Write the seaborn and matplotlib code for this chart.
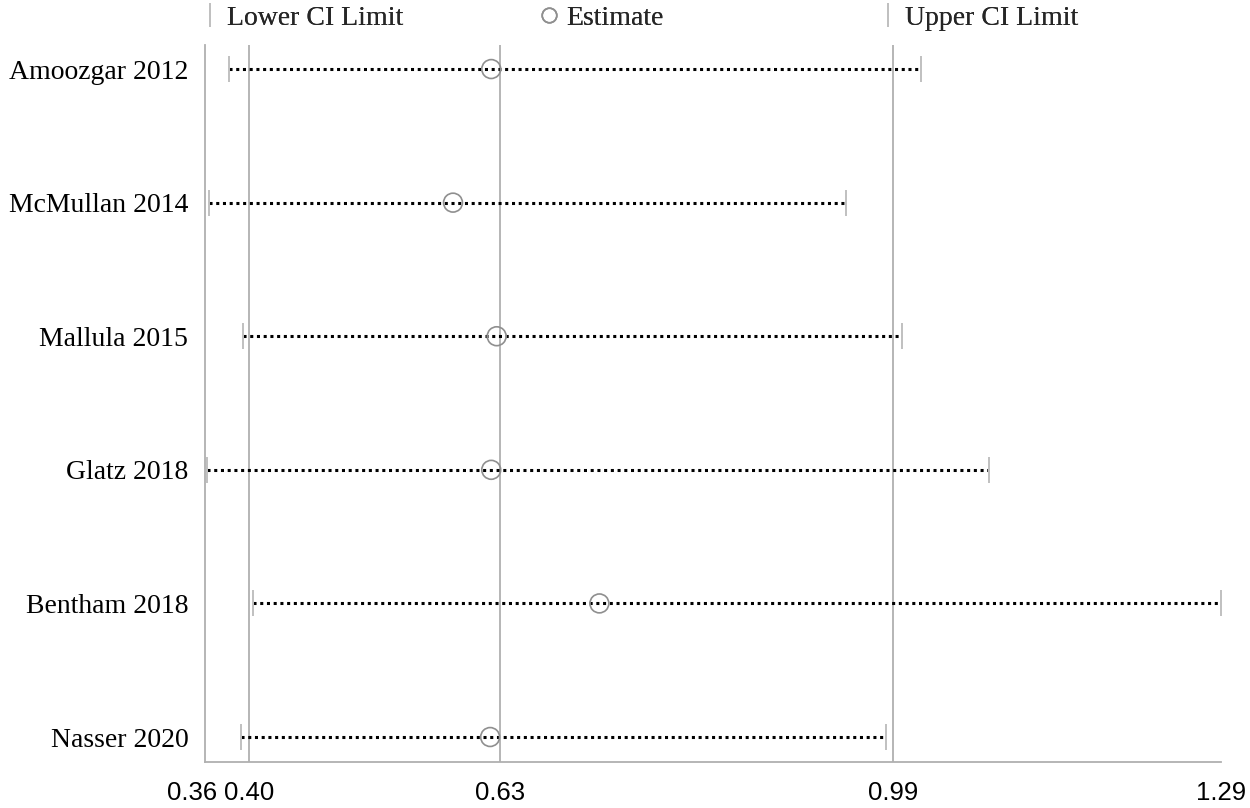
import matplotlib
matplotlib.use("Agg")
import matplotlib.pyplot as plt
import matplotlib.transforms as mtransforms
from matplotlib.lines import Line2D
import seaborn as sns
import pandas as pd

studies = ["Amoozgar 2012", "McMullan 2014", "Mallula 2015", "Glatz 2018", "Bentham 2018", "Nasser 2020"]
estimate = [0.622, 0.587, 0.627, 0.622, 0.721, 0.621]
lower_ci = [0.382, 0.364, 0.395, 0.362, 0.404, 0.393]
upper_ci = [1.015, 0.947, 0.998, 1.078, 1.290, 0.983]
ref_lines = [0.40, 0.63, 0.99]
x_ticks = [0.36, 0.40, 0.63, 0.99, 1.29]
x_tick_labels = ["0.36", "0.40", "0.63", "0.99", "1.29"]

df = pd.DataFrame({"study": studies, "est": estimate, "lo": lower_ci, "hi": upper_ci})
df["row"] = range(len(df))

sns.set_style("white")
SERIF = ["Liberation Serif", "DejaVu Serif"]
SANS = ["Liberation Sans", "DejaVu Sans"]

fig = plt.figure(figsize=(12.5, 8.08), dpi=100)
ax = fig.add_axes([205/1250, 1 - 762/808, (1221 - 205)/1250, (762 - 45)/808])

grid_c = "#b0b0b0"
cap_c = "#c0c0c0"
circ_c = "#8f8f8f"

for v in ref_lines:
    ax.axvline(v, color=grid_c, lw=1.3, zorder=1)

lc = ax.hlines(df["row"], df["lo"], df["hi"], colors="black", lw=2.2,
               linestyles=(0, (1, 1.2)), zorder=2)

sns.scatterplot(data=df, x="lo", y="row", marker="|", s=330, color=cap_c,
                linewidth=1.4, ax=ax, zorder=3, legend=False)
sns.scatterplot(data=df, x="hi", y="row", marker="|", s=330, color=cap_c,
                linewidth=1.4, ax=ax, zorder=3, legend=False)
ax.scatter(df["est"], df["row"], s=185, facecolors="none", edgecolors=circ_c,
           linewidths=1.2, zorder=4)

ax.set_xlim(x_ticks[0], x_ticks[-1])
ax.set_ylim(5.187, -0.18)
ax.set_yticks(df["row"])
ax.set_yticklabels(studies, fontsize=20, family=SERIF, color="black")
ax.set_xticks(x_ticks)
ax.set_xticklabels(x_tick_labels, fontsize=18.5, family=SANS, color="black")
ax.set_xlabel("")
ax.set_ylabel("")

ax.tick_params(axis="y", length=0, pad=12)
ax.tick_params(axis="x", length=11, width=1.3, color=grid_c, pad=3, direction="out")

for s in ["top", "right"]:
    ax.spines[s].set_visible(False)
for s in ["left", "bottom"]:
    ax.spines[s].set_color(grid_c)
    ax.spines[s].set_linewidth(1.3)

# shift first tick label left so it does not collide with the next
lbl = ax.get_xticklabels()[0]
lbl.set_transform(lbl.get_transform() + mtransforms.ScaledTranslation(-13/100, 0, fig.dpi_scale_trans))

# legend, three entries placed across the top
entries = [
    (Line2D([], [], marker="|", ls="none", color=cap_c, markersize=17, markeredgewidth=1.3), "Lower CI Limit", 201.7),
    (Line2D([], [], marker="o", ls="none", markerfacecolor="none", markeredgecolor=circ_c, markersize=10.5, markeredgewidth=1.2), "Estimate", 540.7),
    (Line2D([], [], marker="|", ls="none", color=cap_c, markersize=17, markeredgewidth=1.3), "Upper CI Limit", 879.7),
]
for h, lab, xp in entries:
    leg = fig.legend([h], [lab], loc="center left", bbox_to_anchor=(xp/1250, 1 - 18/808),
                     frameon=False, borderpad=0, borderaxespad=0, handlelength=0.6,
                     handletextpad=0.31, prop={"family": SERIF, "size": 20})
    fig.add_artist(leg)

fig.savefig("out.png", dpi=100)
